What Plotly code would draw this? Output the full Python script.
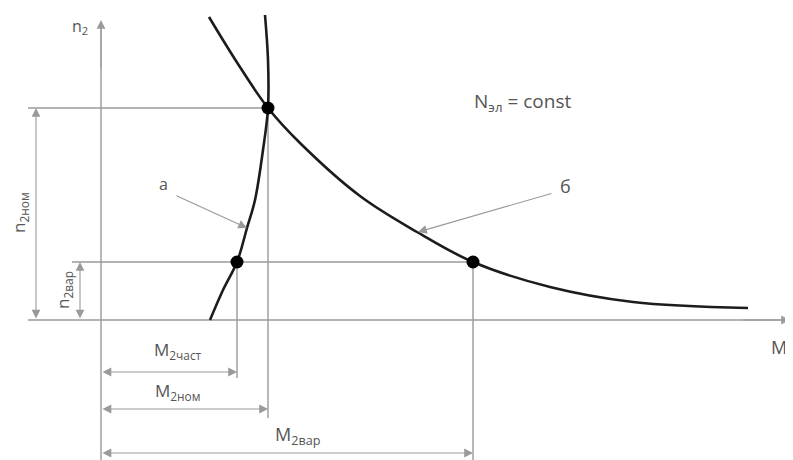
import plotly.graph_objects as go

# ---- data (arbitrary units; origin at axes crossing) ----
curve_a_M = [109, 122, 136, 146, 154, 162, 167, 167, 164]
curve_a_n = [0, 30, 58, 92, 120, 170, 212, 260, 305]

curve_b_M = [108, 137, 167, 199, 259, 316, 372, 449, 532, 647]
curve_b_n = [303, 256, 212, 177, 124, 88, 58, 33, 18, 12]

M_chast, M_nom, M_var = 136, 167, 372
n_nom, n_var = 212, 58

point_M = [M_nom, M_chast, M_var]
point_n = [n_nom, n_var, n_var]

GRAY = "#9a9a9a"
DARK = "#1c1c1c"
TXT = "#555555"
FONT = "Open Sans"

fig = go.Figure()

# curves
fig.add_trace(go.Scatter(x=curve_a_M, y=curve_a_n, mode="lines",
                         line=dict(color=DARK, width=2.6, shape="spline", smoothing=1.0),
                         hoverinfo="skip", showlegend=False))
fig.add_trace(go.Scatter(x=curve_b_M, y=curve_b_n, mode="lines",
                         line=dict(color=DARK, width=2.6, shape="spline", smoothing=1.0),
                         hoverinfo="skip", showlegend=False))
fig.add_trace(go.Scatter(x=point_M, y=point_n, mode="markers",
                         marker=dict(color="black", size=13),
                         hoverinfo="skip", showlegend=False))

shapes = []
def seg(x0, y0, x1, y1, color=GRAY, w=1.4):
    shapes.append(dict(type="line", xref="x", yref="y", x0=x0, y0=y0, x1=x1, y1=y1,
                       line=dict(color=color, width=w), layer="below"))

# axes
seg(-73, 0, 686, 0)
seg(0, -148, 0, 296)
# extension lines
seg(-73, n_nom, M_nom, n_nom)
seg(-29, n_var, M_var, n_var)
seg(M_chast, n_var, M_chast, -58)
seg(M_nom, n_nom, M_nom, -98)
seg(M_var, n_var, M_var, -148)

annotations = []
def arrow(x_head, y_head, x_tail, y_tail, both=False):
    annotations.append(dict(x=x_head, y=y_head, ax=x_tail, ay=y_tail,
                            xref="x", yref="y", axref="x", ayref="y",
                            text="", showarrow=True, arrowhead=2, arrowsize=1.6,
                            arrowwidth=1.1, arrowcolor=GRAY,
                            arrowside="end+start" if both else "end",
                            startarrowhead=2, startarrowsize=1.6))

# axis arrows
arrow(689, 0, 640, 0)
arrow(0, 300, 0, 250)
# dimension lines
arrow(M_chast, -52, 0, -52, both=True)
arrow(M_nom, -89, 0, -89, both=True)
arrow(M_var, -133, 0, -133, both=True)
arrow(-65, n_nom, -65, 0, both=True)
arrow(-21, n_var, -21, 0, both=True)
# leaders
arrow(146, 92, 74, 125)
arrow(317, 88, 452, 127)

def label(x, y, text, size=17, angle=0, xanchor="center"):
    annotations.append(dict(x=x, y=y, xref="x", yref="y", text=text, showarrow=False,
                            textangle=angle, xanchor=xanchor, yanchor="middle",
                            font=dict(family=FONT, size=size, color=TXT)))

label(-21, 294, "n<sub>2</sub>", size=16)
label(421, 218, "N<sub>эл</sub> = const", size=19)
label(62, 136, "а", size=16)
label(464, 134, "б", size=18)
label(668, -28, "M<sub>2</sub>", size=18, xanchor="left")
label(77, -30, "M<sub>2част</sub>", size=17)
label(77, -71, "M<sub>2ном</sub>", size=17)
label(196, -115, "M<sub>2вар</sub>", size=18)
label(-82, 107, "n<sub>2ном</sub>", size=17, angle=-90)
label(-38, 30, "n<sub>2вар</sub>", size=17, angle=-90)

# page body has an 8px margin, so ranges are offset to keep the origin at (101, 320)
fig.update_layout(
    width=793, height=460,
    margin=dict(l=0, r=0, t=0, b=0),
    paper_bgcolor="white", plot_bgcolor="white",
    xaxis=dict(range=[-93, 700], visible=False, fixedrange=True),
    yaxis=dict(range=[-148, 312], visible=False, fixedrange=True),
    shapes=shapes, annotations=annotations,
    showlegend=False,
)

fig.write_html("out.html")
